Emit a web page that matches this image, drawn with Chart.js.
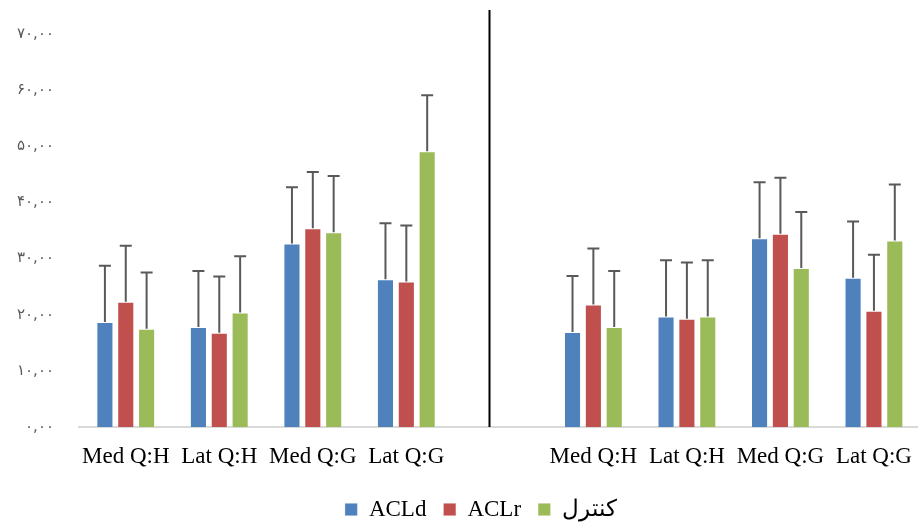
<!DOCTYPE html>
<html>
<head>
<meta charset="utf-8">
<script src="https://cdn.jsdelivr.net/npm/chart.js@4/dist/chart.umd.min.js"></script>
<style>
  html, body { margin: 0; padding: 0; background: #fff; overflow: hidden; }
  #wrap { width: 928px; height: 522px; position: relative; }
</style>
</head>
<body>
<div id="wrap"><canvas id="c"></canvas></div>
<script>
// ---- data ----
const categories = ['Med Q:H', 'Lat Q:H', 'Med Q:G', 'Lat Q:G', '', 'Med Q:H', 'Lat Q:H', 'Med Q:G', 'Lat Q:G'];
const seriesNames = ['ACLd', 'ACLr', 'کنترل'];
const aclD = [18.7, 17.8, 32.7, 26.3, null, 16.9, 19.7, 33.6, 26.6];
const aclR = [22.3, 16.8, 35.4, 25.9, null, 21.8, 19.3, 34.4, 20.7];
const control = [17.5, 20.4, 34.7, 49.1, null, 17.8, 19.7, 28.3, 33.2];
const aclDErr = [10, 10, 10, 10, null, 10, 10, 10, 10];
const aclRErr = [10, 10, 10, 10, null, 10, 10, 10, 10];
const controlErr = [10, 10, 10, 10, null, 10, 10, 10, 10];
const yTickLabels = ['۰,۰۰', '۱۰,۰۰', '۲۰,۰۰', '۳۰,۰۰', '۴۰,۰۰', '۵۰,۰۰', '۶۰,۰۰', '۷۰,۰۰'];

const colors = ['#4F81BD', '#C0504D', '#9BBB59'];
const errs = [aclDErr, aclRErr, controlErr];

const errorBars = {
  id: 'errorBars',
  afterDatasetsDraw(chart) {
    const ctx = chart.ctx;
    const y = chart.scales.y;
    ctx.save();
    ctx.strokeStyle = '#595959';
    ctx.lineWidth = 2;
    chart.data.datasets.forEach((ds, di) => {
      const meta = chart.getDatasetMeta(di);
      meta.data.forEach((bar, i) => {
        const v = ds.data[i];
        const e = errs[di][i];
        if (v == null || e == null) return;
        const top = y.getPixelForValue(v + e);
        ctx.beginPath();
        ctx.moveTo(bar.x, bar.y);
        ctx.lineTo(bar.x, top);
        ctx.moveTo(bar.x - 6, top);
        ctx.lineTo(bar.x + 6, top);
        ctx.stroke();
      });
    });
    ctx.restore();
  }
};

const divider = {
  id: 'divider',
  afterDatasetsDraw(chart) {
    const x = chart.scales.x;
    const y = chart.scales.y;
    const step = x.getPixelForValue(5) - x.getPixelForValue(4);
    const px = Math.round(x.getPixelForValue(4) - 0.12 * step) + 0.5;
    const ctx = chart.ctx;
    ctx.save();
    ctx.strokeStyle = '#000';
    ctx.lineWidth = 2;
    ctx.beginPath();
    ctx.moveTo(px, 10);
    ctx.lineTo(px, y.getPixelForValue(0));
    ctx.stroke();
    ctx.restore();
  }
};

const legendShift = {
  id: 'legendShift',
  afterLayout(chart) {
    const lg = chart.legend;
    if (!lg) return;
    const pad = lg.options.labels.padding;
    const fs = lg.options.labels.font.size;
    const dy = 509.5 - (lg.top + pad + fs / 2);
    const dx = 481 - (lg.left + lg.right) / 2;
    lg.top += dy; lg.bottom += dy;
    lg.left += dx; lg.right += dx;
  }
};

new Chart(document.getElementById('c'), {
  type: 'bar',
  data: {
    labels: categories,
    datasets: [
      { label: seriesNames[0], data: aclD, backgroundColor: colors[0] },
      { label: seriesNames[1], data: aclR, backgroundColor: colors[1] },
      { label: seriesNames[2], data: control, backgroundColor: colors[2] }
    ].map(d => Object.assign(d, { borderColor: 'rgba(255,255,255,0.35)', borderWidth: 1, categoryPercentage: 0.669, barPercentage: 0.82 }))
  },
  options: {
    responsive: true,
    maintainAspectRatio: false,
    animation: false,
    layout: { padding: { top: 28, bottom: 0, left: 0, right: 1 } },
    plugins: {
      tooltip: { enabled: false },
      legend: {
        position: 'bottom',
        labels: {
          boxWidth: 12.5, boxHeight: 12.5, padding: 17,
          color: '#000',
          font: { family: "'Liberation Serif', 'DejaVu Serif', serif", size: 23 }
        }
      }
    },
    scales: {
      x: {
        grid: { display: true, color: 'rgba(0,0,0,0)', drawTicks: false },
        border: { display: true, color: '#D9D9D9', width: 2 },
        ticks: {
          color: '#000', padding: 16, maxRotation: 0, autoSkip: false,
          font: { family: "'Liberation Serif', 'DejaVu Serif', serif", size: 23 }
        },
        afterFit(s) { s.height = 45; }
      },
      y: {
        min: 0, max: 70,
        grid: { display: false, drawTicks: false },
        border: { display: false },
        ticks: {
          stepSize: 10, padding: 25, color: '#595959',
          font: { family: "'DejaVu Sans', sans-serif", size: 15 },
          callback: (v) => yTickLabels[Math.round(v / 10)]
        },
        afterFit(s) { s.width = 79; }
      }
    }
  },
  plugins: [errorBars, divider, legendShift]
});
</script>
</body>
</html>
